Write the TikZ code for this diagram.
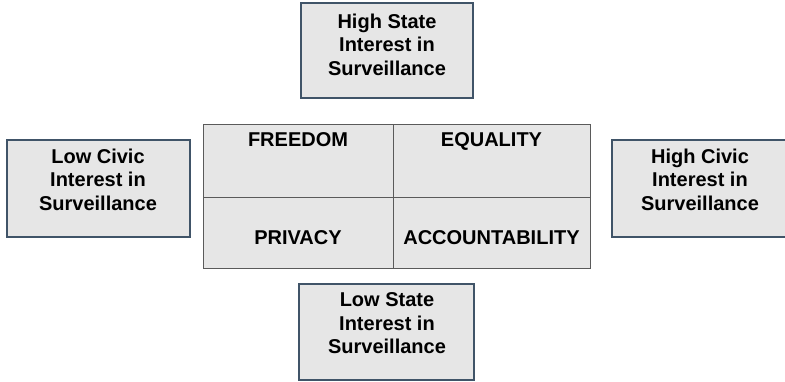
\documentclass[tikz,border=0pt]{standalone}
\usepackage{fontspec}
\setmainfont{Liberation Sans}
\usepackage{tikz}
\usetikzlibrary{shadows}

\definecolor{boxfill}{RGB}{230,230,230}
\definecolor{boxline}{RGB}{64,84,104}
\definecolor{gridline}{RGB}{90,90,90}

\tikzset{
  box/.style={draw=boxline, fill=boxfill, line width=1.1pt, inner sep=0pt,
    general shadow={shadow xshift=0.8pt, shadow yshift=-0.8pt, fill=black!75}},
  cell/.style={draw=gridline, fill=boxfill, line width=0.9pt, inner sep=0pt},
  lbl/.style={font=\bfseries\fontsize{20}{23.5}\selectfont, align=center, anchor=north, inner sep=0pt}
}

\begin{document}
\begin{tikzpicture}[x=1pt, y=-1pt]
            \useasboundingbox (0,0) rectangle (785,381);
            % the four interest boxes
            \node[box, minimum width=172, minimum height=95] (hs) at (387,50.5) {};
            \node[box, minimum width=175, minimum height=96] (ls) at (386.5,332) {};
            \node[box, minimum width=183, minimum height=97] (lc) at (98.5,188.5) {};
            \node[box, minimum width=176, minimum height=97] (hc) at (700,188.5) {};
            \node[lbl] (hstxt) at (387,13.5) {High State\\Interest in\\Surveillance};
            \node[lbl] (lstxt) at (387,292.5) {Low State\\Interest in\\Surveillance};
            \node[lbl] (lctxt) at (98,148.5) {Low Civic\\Interest in\\Surveillance};
            \node[lbl] (hctxt) at (700,148.5) {High Civic\\Interest in\\Surveillance};
            % the grid of values
            \node[cell, minimum width=190, minimum height=73] (fr) at (298,160.5) {};
            \node[cell, minimum width=197, minimum height=73] (eq) at (491.5,160.5) {};
            \node[cell, minimum width=190, minimum height=71] (pr) at (298,232.5) {};
            \node[cell, minimum width=197, minimum height=71] (ac) at (491.5,232.5) {};
            \node[lbl] (frtxt) at (298,132.5) {FREEDOM};
            \node[lbl] (eqtxt) at (491.5,132.5) {EQUALITY};
            \node[lbl] (prtxt) at (298,230.5) {PRIVACY};
            \node[lbl] (actxt) at (491.5,230.5) {ACCOUNTABILITY};
        \end{tikzpicture}
\end{document}
